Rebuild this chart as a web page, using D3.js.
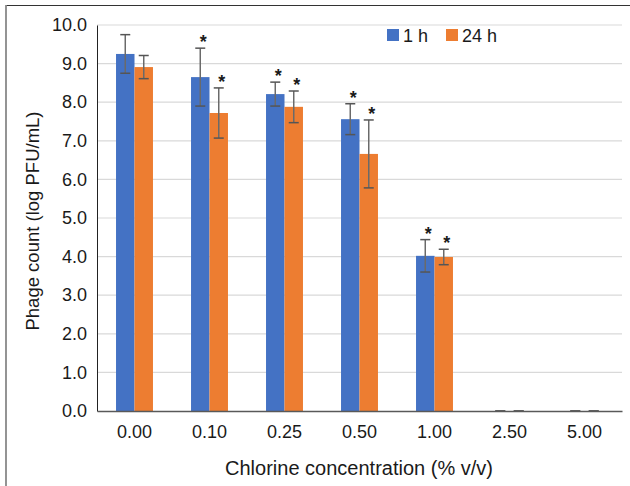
<!DOCTYPE html>
<html>
<head>
    <script src="https://cdn.jsdelivr.net/npm/d3@7"></script>
    <style>
        body { margin: 0; background: #fff; }
        text { font-family: "Liberation Sans", Arial, sans-serif; fill: #1a1a1a; }
    </style>
</head>

<body>
<div id="chart"></div>

<script>

    var concentrations = ['0.00', '0.10', '0.25', '0.50', '1.00', '2.50', '5.00'];
    var seriesNames = ['1 h', '24 h'];
    var colors = ['#4472C4', '#ED7D31'];

    // mean log PFU/mL
    var values1h  = [9.25, 8.65, 8.21, 7.56, 4.02, 0, 0];
    var values24h = [8.91, 7.72, 7.88, 6.66, 3.99, 0, 0];

    // error bar half-widths
    var err1h  = [0.50, 0.75, 0.31, 0.40, 0.42, 0, 0];
    var err24h = [0.30, 0.65, 0.41, 0.88, 0.20, 0, 0];

    // significance markers
    var sig1h  = [false, true, true, true, true, false, false];
    var sig24h = [false, true, true, true, true, false, false];

    var yTicks = [0, 1, 2, 3, 4, 5, 6, 7, 8, 9, 10];

    var width = 630;
    var height = 486;
    var padding = { top: 25, right: 8, bottom: 75, left: 97 };
    var innerW = width - padding.left - padding.right;
    var innerH = height - padding.top - padding.bottom;

    var rows = concentrations.map(function(c, i) {
        return {
            conc: c,
            bars: [
                { s: 0, v: values1h[i], e: err1h[i], sig: sig1h[i] },
                { s: 1, v: values24h[i], e: err24h[i], sig: sig24h[i] }
            ]
        };
    });

    var xScale = d3.scaleBand()
        .domain(concentrations)
        .range([0, innerW]);

    var x1 = d3.scaleBand()
        .domain([0, 1])
        .range([0, xScale.bandwidth()])
        .paddingOuter(1.03)
        .paddingInner(0);

    var yScale = d3.scaleLinear()
        .domain([0, 10])
        .range([innerH, 0]);

    var svg = d3.select('#chart').append('svg')
        .attr('width', width)
        .attr('height', height);

    // outer frame (left + top)
    svg.append('line')
        .attr('x1', 6).attr('x2', width).attr('y1', 5.5).attr('y2', 5.5)
        .attr('stroke', '#333').attr('stroke-width', 1.2);
    svg.append('line')
        .attr('x1', 6).attr('x2', 6).attr('y1', 5).attr('y2', height)
        .attr('stroke', '#888').attr('stroke-width', 1.8);

    var g = svg.append('g')
        .attr('transform', 'translate(' + padding.left + ',' + padding.top + ')');

    // gridlines
    g.append('g')
        .selectAll('line')
        .data(yTicks.slice(1))
        .enter()
        .append('line')
        .attr('x1', 0)
        .attr('x2', innerW)
        .attr('y1', function(d) { return yScale(d); })
        .attr('y2', function(d) { return yScale(d); })
        .attr('stroke', '#d9d9d9')
        .attr('stroke-width', 1.2);

    // y axis
    var yAxis = g.append('g')
        .call(d3.axisLeft(yScale)
            .tickValues(yTicks)
            .tickFormat(d3.format('.1f'))
            .tickSize(0)
            .tickPadding(10));
    yAxis.select('.domain').attr('stroke', '#222').attr('stroke-width', 1);
    yAxis.selectAll('text')
        .style('font-size', '18px')
        .attr('fill', '#1a1a1a');

    // bars
    var groups = g.selectAll('g.group')
        .data(rows)
        .enter()
        .append('g')
        .attr('class', 'group')
        .attr('transform', function(d) { return 'translate(' + xScale(d.conc) + ',0)'; });

    groups.selectAll('rect')
        .data(function(d) { return d.bars; })
        .enter()
        .append('rect')
        .attr('x', function(d) { return x1(d.s); })
        .attr('width', x1.bandwidth())
        .attr('y', function(d) { return yScale(d.v); })
        .attr('height', function(d) { return innerH - yScale(d.v); })
        .attr('fill', function(d) { return colors[d.s]; });

    // x axis
    var xAxis = g.append('g')
        .attr('transform', 'translate(0,' + innerH + ')')
        .call(d3.axisBottom(xScale).tickSize(0).tickPadding(14));
    xAxis.select('.domain').attr('stroke', '#595959').attr('stroke-width', 1.6);
    xAxis.selectAll('text')
        .style('font-size', '18px')
        .attr('fill', '#1a1a1a');

    // error bars
    var capW = 5;
    var eb = groups.selectAll('g.err')
        .data(function(d) { return d.bars; })
        .enter()
        .append('g')
        .attr('class', 'err')
        .attr('stroke', '#555')
        .attr('stroke-width', 1.5);

    function cx(d) { return x1(d.s) + x1.bandwidth() / 2; }

    eb.append('line')
        .attr('x1', cx).attr('x2', cx)
        .attr('y1', function(d) { return yScale(d.v + d.e); })
        .attr('y2', function(d) { return yScale(d.v - d.e); })
        .attr('stroke', '#6a6a6a');
    eb.append('line')
        .attr('x1', function(d) { return cx(d) - capW; })
        .attr('x2', function(d) { return cx(d) + capW; })
        .attr('y1', function(d) { return yScale(d.v + d.e); })
        .attr('y2', function(d) { return yScale(d.v + d.e); });
    eb.append('line')
        .attr('x1', function(d) { return cx(d) - capW; })
        .attr('x2', function(d) { return cx(d) + capW; })
        .attr('y1', function(d) { return yScale(d.v - d.e); })
        .attr('y2', function(d) { return yScale(d.v - d.e); });

    // asterisks
    groups.selectAll('text.sig')
        .data(function(d) { return d.bars.filter(function(b) { return b.sig; }); })
        .enter()
        .append('text')
        .attr('class', 'sig')
        .attr('x', function(d) { return cx(d) + 3; })
        .attr('y', function(d) { return yScale(d.v + d.e); })
        .attr('text-anchor', 'middle')
        .style('font-size', '18px')
        .style('font-weight', 'bold')
        .text('*');

    // axis titles
    svg.append('text')
        .attr('transform', 'translate(38.5,' + (padding.top + innerH / 2 + 3) + ') rotate(-90)')
        .attr('text-anchor', 'middle')
        .style('font-size', '18.5px')
        .text('Phage count (log PFU/mL)');

    svg.append('text')
        .attr('x', 359)
        .attr('y', 475)
        .attr('text-anchor', 'middle')
        .style('font-size', '20px')
        .text('Chlorine concentration (% v/v)');

    // legend
    var legend = svg.append('g')
        .attr('transform', 'translate(387,29)');
    var legendX = [0, 59];
    var li = legend.selectAll('g')
        .data(seriesNames)
        .enter()
        .append('g')
        .attr('transform', function(d, i) { return 'translate(' + legendX[i] + ',0)'; });
    li.append('rect')
        .attr('width', 12).attr('height', 12)
        .attr('fill', function(d, i) { return colors[i]; });
    li.append('text')
        .attr('x', 16)
        .attr('y', 12.5)
        .style('font-size', '18px')
        .text(function(d) { return d; });

</script>
</body>
</html>
